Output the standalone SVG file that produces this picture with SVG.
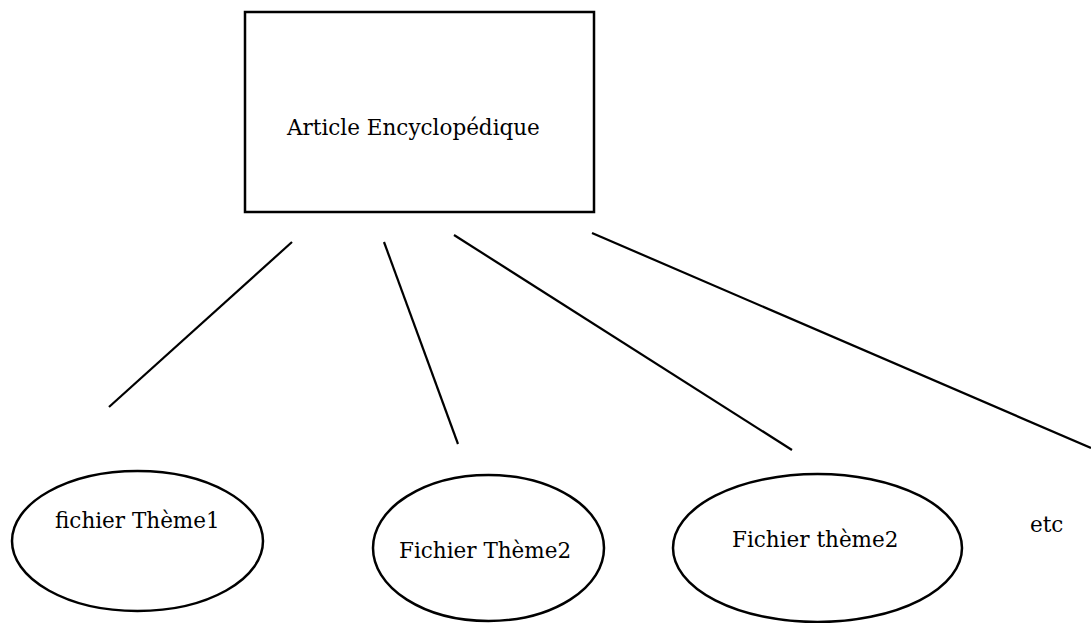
<svg xmlns="http://www.w3.org/2000/svg" width="1091" height="623" viewBox="0 0 1091 623">
<style>
.shape{fill:#fff;stroke:#000;stroke-width:2.5}
.lbl{font-family:"DejaVu Serif","Liberation Serif",serif;font-size:21.5px;fill:#000}
.conn{stroke:#000;stroke-width:2.2;fill:none}
</style>
<rect width="1091" height="623" fill="#fff"/>
<g id="article">
<rect class="shape" x="245" y="12" width="349" height="200"/>
<text class="lbl" x="287" y="135">Article Encyclopédique</text>
</g>
<g id="connectors">
<line class="conn" x1="292" y1="242" x2="109" y2="407"/>
<line class="conn" x1="384" y1="242" x2="458" y2="444"/>
<line class="conn" x1="454" y1="235" x2="792" y2="450"/>
<line class="conn" x1="592" y1="233" x2="1091" y2="448"/>
</g>
<g id="theme1">
<ellipse class="shape" cx="137.5" cy="541" rx="125.5" ry="70"/>
<text class="lbl" x="55" y="528">fichier Thème1</text>
</g>
<g id="theme2">
<ellipse class="shape" cx="488.5" cy="548" rx="115.5" ry="73"/>
<text class="lbl" x="399" y="558">Fichier Thème2</text>
</g>
<g id="theme2b">
<ellipse class="shape" cx="817.5" cy="548" rx="144.5" ry="74"/>
<text class="lbl" x="732" y="547">Fichier thème2</text>
</g>
<g id="etc">
<text class="lbl" x="1030" y="532">etc</text>
</g>
</svg>
